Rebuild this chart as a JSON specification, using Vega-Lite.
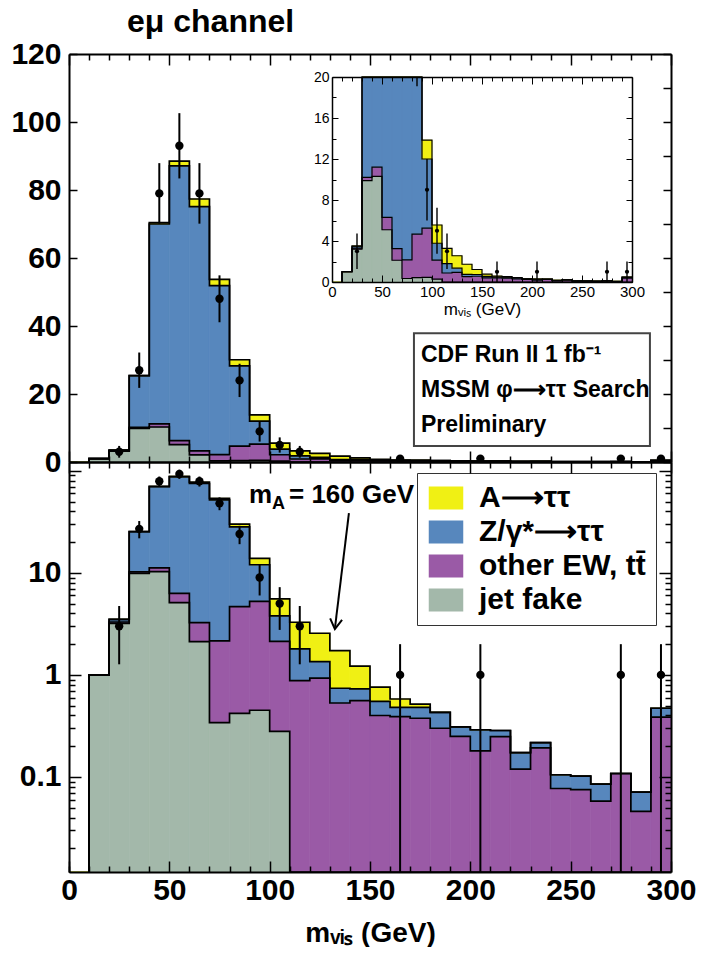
{
"$schema": "https://vega.github.io/schema/vega-lite/v6.json",
"background": "white",
"padding": {"left": 10, "top": 6, "right": 0, "bottom": 0},
"title": {"text": "eμ channel", "anchor": "start", "frame": "group", "dx": 58, "offset": 0, "fontSize": 32, "fontWeight": "bold", "font": "Liberation Sans", "color": "black"},
"spacing": 0,
"bounds": "flush",
"resolve": {"scale": {"color": "independent", "stroke": "independent"}, "legend": {"color": "independent", "stroke": "independent"}},
"config": {"view": {"stroke": null}, "font": "Liberation Sans", "axis": {"grid": false, "labelColor": "black", "tickColor": "black", "domainColor": "black", "titleColor": "black", "labelOverlap": false, "labelFlush": false, "labelBound": false}},
"datasets": {
"bins": [
{"lo":0,"hi":10,"jet fake":0,"other EW, tt̄":0,"Z/γ*→ττ":0,"A→ττ":0},
{"lo":10,"hi":20,"jet fake":1.0,"other EW, tt̄":0,"Z/γ*→ττ":0,"A→ττ":0},
{"lo":20,"hi":30,"jet fake":3.2,"other EW, tt̄":0.1,"Z/γ*→ττ":0.2,"A→ττ":0},
{"lo":30,"hi":40,"jet fake":9.9,"other EW, tt̄":0.3,"Z/γ*→ττ":15.2,"A→ττ":0},
{"lo":40,"hi":50,"jet fake":10.3,"other EW, tt̄":0.9,"Z/γ*→ττ":58.8,"A→ττ":0.4},
{"lo":50,"hi":60,"jet fake":5.1,"other EW, tt̄":1.2,"Z/γ*→ττ":80.8,"A→ττ":1.4},
{"lo":60,"hi":70,"jet fake":2.12,"other EW, tt̄":1.13,"Z/γ*→ττ":71.85,"A→ττ":2.25},
{"lo":70,"hi":80,"jet fake":0.34,"other EW, tt̄":1.81,"Z/γ*→ττ":49.75,"A→ττ":1.8},
{"lo":80,"hi":90,"jet fake":0.42,"other EW, tt̄":4.25,"Z/γ*→ττ":23.6,"A→ττ":1.8},
{"lo":90,"hi":100,"jet fake":0.45,"other EW, tt̄":4.8,"Z/γ*→ττ":6.75,"A→ττ":1.85},
{"lo":100,"hi":110,"jet fake":0.28,"other EW, tt̄":1.85,"Z/γ*→ττ":1.65,"A→ττ":1.78},
{"lo":110,"hi":120,"jet fake":0,"other EW, tt̄":0.88,"Z/γ*→ττ":0.92,"A→ττ":1.48},
{"lo":120,"hi":130,"jet fake":0,"other EW, tt̄":0.93,"Z/γ*→ττ":0.42,"A→ττ":1.21},
{"lo":130,"hi":140,"jet fake":0,"other EW, tt̄":0.53,"Z/γ*→ττ":0.21,"A→ττ":0.99},
{"lo":140,"hi":150,"jet fake":0,"other EW, tt̄":0.56,"Z/γ*→ττ":0.17,"A→ττ":0.49},
{"lo":150,"hi":160,"jet fake":0,"other EW, tt̄":0.40,"Z/γ*→ττ":0.15,"A→ττ":0.21},
{"lo":160,"hi":170,"jet fake":0,"other EW, tt̄":0.39,"Z/γ*→ττ":0.09,"A→ττ":0.10},
{"lo":170,"hi":180,"jet fake":0,"other EW, tt̄":0.376,"Z/γ*→ττ":0.105,"A→ττ":0.035},
{"lo":180,"hi":190,"jet fake":0,"other EW, tt̄":0.30,"Z/γ*→ττ":0.13,"A→ττ":0},
{"lo":190,"hi":200,"jet fake":0,"other EW, tt̄":0.25,"Z/γ*→ττ":0.06,"A→ττ":0},
{"lo":200,"hi":210,"jet fake":0,"other EW, tt̄":0.18,"Z/γ*→ττ":0.11,"A→ττ":0},
{"lo":210,"hi":220,"jet fake":0,"other EW, tt̄":0.248,"Z/γ*→ττ":0.037,"A→ττ":0},
{"lo":220,"hi":230,"jet fake":0,"other EW, tt̄":0.119,"Z/γ*→ττ":0.054,"A→ττ":0},
{"lo":230,"hi":240,"jet fake":0,"other EW, tt̄":0.193,"Z/γ*→ττ":0.024,"A→ττ":0},
{"lo":240,"hi":250,"jet fake":0,"other EW, tt̄":0.077,"Z/γ*→ττ":0.028,"A→ττ":0},
{"lo":250,"hi":260,"jet fake":0,"other EW, tt̄":0.075,"Z/γ*→ττ":0.027,"A→ττ":0},
{"lo":260,"hi":270,"jet fake":0,"other EW, tt̄":0.058,"Z/γ*→ττ":0.027,"A→ττ":0},
{"lo":270,"hi":280,"jet fake":0,"other EW, tt̄":0.108,"Z/γ*→ττ":0,"A→ττ":0},
{"lo":280,"hi":290,"jet fake":0,"other EW, tt̄":0.046,"Z/γ*→ττ":0.025,"A→ττ":0},
{"lo":290,"hi":300,"jet fake":0,"other EW, tt̄":0.385,"Z/γ*→ττ":0.086,"A→ττ":0}
],
"obs": [
{"c":25,"n":3,"lo":1.27,"hi":4.73},
{"c":35,"n":27,"lo":21.8,"hi":32.2},
{"c":45,"n":79,"lo":70.1,"hi":87.9},
{"c":55,"n":93,"lo":83.4,"hi":102.6},
{"c":65,"n":79,"lo":70.1,"hi":87.9},
{"c":75,"n":48,"lo":41.1,"hi":54.9},
{"c":85,"n":24,"lo":19.1,"hi":28.9},
{"c":95,"n":9,"lo":6,"hi":12},
{"c":105,"n":5,"lo":2.76,"hi":7.24},
{"c":115,"n":3,"lo":1.27,"hi":4.73},
{"c":165,"n":1,"lo":0,"hi":2},
{"c":205,"n":1,"lo":0,"hi":2},
{"c":275,"n":1,"lo":0,"hi":2},
{"c":295,"n":1,"lo":0,"hi":2}
]
},
"vconcat": [
{
"width": 602, "height": 408,
"resolve": {"scale": {"x": "independent", "y": "independent"}},
"layer": [
{"layer": [
{"data": {"name": "bins"},
 "transform": [{"fold": ["jet fake","other EW, tt̄","Z/γ*→ττ","A→ττ"], "as": ["comp","v"]}, {"stack": "v", "groupby": ["lo"], "as": ["y0","y1"]}],
 "mark": {"type": "rect", "strokeWidth": 0.7},
 "encoding": {
  "x": {"field": "lo", "type": "quantitative", "scale": {"domain": [0,300], "nice": false},
        "axis": {"orient": "bottom", "values": [0,10,20,30,40,50,60,70,80,90,100,110,120,130,140,150,160,170,180,190,200,210,220,230,240,250,260,270,280,290,300], "labels": false, "title": null, "tickSize": {"condition": {"test": "datum.value % 50 === 0", "value": -11}, "value": -6}, "tickWidth": 1.5, "domainWidth": 2, "zindex": 1}},
  "x2": {"field": "hi"},
  "y": {"field": "y1", "type": "quantitative", "scale": {"domain": [0,120], "nice": false},
        "axis": {"orient": "left", "values": [0,10,20,30,40,50,60,70,80,90,100,110,120], "labelExpr": "datum.value % 20 === 0 ? datum.label : ''", "labelOverlap": false, "labelFontSize": 30, "labelFontWeight": "bold", "labelPadding": 16, "tickSize": -8, "tickWidth": 1.5, "domainWidth": 2, "title": null, "zindex": 1}},
  "y2": {"field": "y0"},
  "color": {"field": "comp", "type": "nominal", "legend": null, "scale": {"domain": ["A→ττ","Z/γ*→ττ","other EW, tt̄","jet fake"], "range": ["#f0f014","#5787bd","#9a5aa6","#a3b8aa"]}},
  "stroke": {"field": "comp", "type": "nominal", "legend": null, "scale": {"domain": ["A→ττ","Z/γ*→ττ","other EW, tt̄","jet fake"], "range": ["#f0f014","#5787bd","#9a5aa6","#a3b8aa"]}}
 }},
{"data": {"name": "bins"},
 "transform": [{"fold": ["jet fake","other EW, tt̄","Z/γ*→ττ","A→ττ"], "as": ["comp","v"]}, {"stack": "v", "groupby": ["lo"], "as": ["y0","y1"]}],
 "mark": {"type": "line", "interpolate": "step-before", "color": "black", "strokeWidth": 1.7},
 "encoding": {"x": {"field": "hi", "type": "quantitative"}, "y": {"field": "y1", "type": "quantitative"}, "detail": {"field": "comp", "type": "nominal"}}},
{"data": {"name": "obs"}, "mark": {"type": "rule", "color": "black", "strokeWidth": 2},
 "encoding": {"x": {"field": "c", "type": "quantitative"}, "y": {"field": "lo", "type": "quantitative"}, "y2": {"field": "hi"}}},
{"data": {"name": "obs"}, "mark": {"type": "point", "filled": true, "color": "black", "opacity": 1, "size": 70},
 "encoding": {"x": {"field": "c", "type": "quantitative"}, "y": {"field": "n", "type": "quantitative"}}},
{"data": {"values": [{}]}, "mark": {"type": "rect", "fill": "white", "stroke": "#444", "strokeWidth": 2},
 "encoding": {"x": {"datum": 171.9}, "x2": {"datum": 289.5}, "y": {"datum": 37.9}, "y2": {"datum": 4.7}}},
{"data": {"values": [{}]}, "mark": {"type": "text", "align": "left", "baseline": "alphabetic", "fontSize": 23, "fontWeight": "bold", "lineHeight": 35, "color": "black", "text": ["CDF Run II  1 fb⁻¹", "MSSM φ⟶ττ Search", "Preliminary"]},
 "encoding": {"x": {"datum": 175.4}, "y": {"datum": 29.4}}}
]},
{"data": {"name": "obs"}, "mark": {"type": "point", "opacity": 0},
 "encoding": {
  "x": {"field": "c", "type": "quantitative", "scale": {"domain": [0,300], "nice": false},
        "axis": {"orient": "top", "values": [0,10,20,30,40,50,60,70,80,90,100,110,120,130,140,150,160,170,180,190,200,210,220,230,240,250,260,270,280,290,300], "labels": false, "title": null, "tickSize": {"condition": {"test": "datum.value % 50 === 0", "value": -11}, "value": -6}, "tickWidth": 1.5, "domainWidth": 2, "zindex": 1}},
  "y": {"field": "n", "type": "quantitative", "scale": {"domain": [0,120], "nice": false},
        "axis": {"orient": "right", "values": [0,10,20,30,40,50,60,70,80,90,100,110,120], "labels": false, "title": null, "tickSize": -8, "tickWidth": 1.5, "domainWidth": 2, "zindex": 1}}
 }},
{"layer": [
{"data": {"name": "bins"},
 "transform": [{"fold": ["jet fake","other EW, tt̄","Z/γ*→ττ","A→ττ"], "as": ["comp","v"]}, {"stack": "v", "groupby": ["lo"], "as": ["y0","y1"]}],
 "mark": {"type": "rect", "strokeWidth": 0.6},
 "encoding": {
  "x": {"field": "lo", "type": "quantitative", "scale": {"domain": [0,300], "range": [263,563], "nice": false},
        "axis": {"orient": "bottom", "offset": -180, "values": [0,50,100,150,200,250,300], "labelOverlap": false, "labelFontSize": 15, "labelPadding": 9, "tickSize": -7, "tickWidth": 1, "domainWidth": 1.5, "title": "mᵥᵢₛ  (GeV)", "titleFontSize": 17, "titleFontWeight": "normal", "titlePadding": 2, "zindex": 1}},
  "x2": {"field": "hi"},
  "y": {"field": "y1", "type": "quantitative", "scale": {"domain": [0,20], "range": [228,23], "clamp": true, "nice": false},
        "axis": {"orient": "left", "offset": -263, "values": [0,2,4,6,8,10,12,14,16,18,20], "labelExpr": "datum.value % 4 === 0 ? datum.label : ''", "labelOverlap": false, "labelFontSize": 14, "labelPadding": 9, "tickSize": {"condition": {"test": "datum.value % 4 === 0", "value": -6}, "value": -4}, "tickWidth": 1, "domainWidth": 1.5, "title": null, "zindex": 1}},
  "y2": {"field": "y0"},
  "color": {"field": "comp", "type": "nominal", "legend": null, "scale": {"domain": ["A→ττ","Z/γ*→ττ","other EW, tt̄","jet fake"], "range": ["#f0f014","#5787bd","#9a5aa6","#a3b8aa"]}},
  "stroke": {"field": "comp", "type": "nominal", "legend": null, "scale": {"domain": ["A→ττ","Z/γ*→ττ","other EW, tt̄","jet fake"], "range": ["#f0f014","#5787bd","#9a5aa6","#a3b8aa"]}}
 }},
{"data": {"name": "bins"},
 "transform": [{"fold": ["jet fake","other EW, tt̄","Z/γ*→ττ","A→ττ"], "as": ["comp","v"]}, {"stack": "v", "groupby": ["lo"], "as": ["y0","y1"]}],
 "mark": {"type": "line", "interpolate": "step-before", "color": "black", "strokeWidth": 1.2},
 "encoding": {"x": {"field": "hi", "type": "quantitative"}, "y": {"field": "y1", "type": "quantitative"}, "detail": {"field": "comp", "type": "nominal"}}},
{"data": {"name": "obs"}, "mark": {"type": "rule", "color": "black", "strokeWidth": 1.4},
 "encoding": {"x": {"field": "c", "type": "quantitative"}, "y": {"field": "lo", "type": "quantitative"}, "y2": {"field": "hi"}}},
{"data": {"name": "obs"}, "transform": [{"filter": "datum.n <= 20"}], "mark": {"type": "point", "filled": true, "color": "black", "opacity": 1, "size": 18},
 "encoding": {"x": {"field": "c", "type": "quantitative"}, "y": {"field": "n", "type": "quantitative"}}}
]},
{"data": {"name": "obs"}, "transform": [{"filter": "datum.n <= 20"}], "mark": {"type": "point", "opacity": 0},
 "encoding": {
  "x": {"field": "c", "type": "quantitative", "scale": {"domain": [0,300], "range": [263,563], "nice": false},
        "axis": {"orient": "top", "offset": -23, "values": [0,10,20,30,40,50,60,70,80,90,100,110,120,130,140,150,160,170,180,190,200,210,220,230,240,250,260,270,280,290,300], "labels": false, "title": null, "tickSize": {"condition": {"test": "datum.value % 50 === 0", "value": -7}, "value": -4}, "tickWidth": 1, "domainWidth": 1.5, "zindex": 1}},
  "y": {"field": "n", "type": "quantitative", "scale": {"domain": [0,20], "range": [228,23], "clamp": true, "nice": false},
        "axis": {"orient": "right", "offset": -39, "values": [0,2,4,6,8,10,12,14,16,18,20], "labels": false, "title": null, "tickSize": {"condition": {"test": "datum.value % 4 === 0", "value": -6}, "value": -4}, "tickWidth": 1, "domainWidth": 1.5, "zindex": 1}}
 }},
{"data": {"name": "obs"}, "mark": {"type": "point", "opacity": 0},
 "encoding": {
  "x": {"field": "c", "type": "quantitative", "scale": {"domain": [0,300], "range": [263,563], "nice": false},
        "axis": {"orient": "bottom", "offset": -180, "values": [0,10,20,30,40,50,60,70,80,90,100,110,120,130,140,150,160,170,180,190,200,210,220,230,240,250,260,270,280,290,300], "labels": false, "domain": false, "title": null, "tickSize": -4, "tickWidth": 1, "zindex": 1}}
 }}
]
},
{
"width": 602, "height": 410,
"resolve": {"scale": {"x": "independent", "y": "independent"}},
"layer": [
{"layer": [
{"data": {"name": "bins"},
 "transform": [{"fold": ["jet fake","other EW, tt̄","Z/γ*→ττ","A→ττ"], "as": ["comp","v"]}, {"stack": "v", "groupby": ["lo"], "as": ["y0","y1"]}],
 "mark": {"type": "rect", "strokeWidth": 0.7},
 "encoding": {
  "x": {"field": "lo", "type": "quantitative", "scale": {"domain": [0,300], "nice": false},
        "axis": {"orient": "bottom", "values": [0,50,100,150,200,250,300], "labelOverlap": false, "labelFontSize": 30, "labelFontWeight": "bold", "labelPadding": 14, "tickSize": -11, "tickWidth": 1.5, "domainWidth": 2, "title": "mᵥᵢₛ  (GeV)", "titleFontSize": 28, "titleFontWeight": "bold", "titlePadding": 14, "zindex": 1}},
  "x2": {"field": "hi"},
  "y": {"field": "y1", "type": "quantitative", "scale": {"type": "log", "domain": [0.0117,122], "clamp": true, "nice": false},
        "axis": {"orient": "left", "values": [0.02,0.03,0.04,0.05,0.06,0.07,0.08,0.09,0.1,0.2,0.3,0.4,0.5,0.6,0.7,0.8,0.9,1,2,3,4,5,6,7,8,9,10,20,30,40,50,60,70,80,90,100], "labelExpr": "datum.value == 0.1 ? '0.1' : datum.value == 1 ? '1' : datum.value == 10 ? '10' : ''", "labelOverlap": false, "labelFontSize": 30, "labelFontWeight": "bold", "labelPadding": 20, "tickSize": {"condition": {"test": "datum.value == 0.1 || datum.value == 1 || datum.value == 10 || datum.value == 100", "value": -12}, "value": -6}, "tickWidth": 1.5, "domainWidth": 2, "title": null, "zindex": 1}},
  "y2": {"field": "y0"},
  "color": {"field": "comp", "type": "nominal",
    "scale": {"domain": ["A→ττ","Z/γ*→ττ","other EW, tt̄","jet fake"], "range": ["#f0f014","#5787bd","#9a5aa6","#a3b8aa"]},
    "legend": {"title": null, "orient": "none", "legendX": 348, "legendY": 11, "direction": "vertical", "symbolType": "M-1.5,-1L1.5,-1L1.5,1L-1.5,1Z", "symbolSize": 529, "symbolStrokeWidth": 0, "symbolOpacity": 1, "symbolOffset": 4, "labelFont": "Liberation Sans", "labelFontSize": 30, "labelFontWeight": "bold", "labelColor": "black", "labelOffset": 18, "labelLimit": 400, "rowPadding": 4, "padding": 10, "fillColor": "white", "strokeColor": "#333",
      "labelExpr": "replace(datum.label, '→', '⟶')"}},
  "stroke": {"field": "comp", "type": "nominal", "legend": null, "scale": {"domain": ["A→ττ","Z/γ*→ττ","other EW, tt̄","jet fake"], "range": ["#f0f014","#5787bd","#9a5aa6","#a3b8aa"]}}
 }},
{"data": {"name": "bins"},
 "transform": [{"fold": ["jet fake","other EW, tt̄","Z/γ*→ττ","A→ττ"], "as": ["comp","v"]}, {"stack": "v", "groupby": ["lo"], "as": ["y0","y1"]}],
 "mark": {"type": "line", "interpolate": "step-before", "color": "black", "strokeWidth": 1.7},
 "encoding": {"x": {"field": "hi", "type": "quantitative"}, "y": {"field": "y1", "type": "quantitative"}, "detail": {"field": "comp", "type": "nominal"}}},
{"data": {"name": "obs"}, "mark": {"type": "rule", "color": "black", "strokeWidth": 2},
 "encoding": {"x": {"field": "c", "type": "quantitative"}, "y": {"field": "lo", "type": "quantitative"}, "y2": {"field": "hi"}}},
{"data": {"name": "obs"}, "mark": {"type": "point", "filled": true, "color": "black", "opacity": 1, "size": 70},
 "encoding": {"x": {"field": "c", "type": "quantitative"}, "y": {"field": "n", "type": "quantitative"}}},
{"data": {"values": [{}]}, "mark": {"type": "text", "align": "left", "baseline": "alphabetic", "fontSize": 26, "fontWeight": "bold", "color": "black", "text": "m"},
 "encoding": {"x": {"datum": 89.7}, "y": {"datum": 48.9}}},
{"data": {"values": [{}]}, "mark": {"type": "text", "align": "left", "baseline": "alphabetic", "fontSize": 18, "fontWeight": "bold", "color": "black", "text": "A", "dx": 23, "dy": 6},
 "encoding": {"x": {"datum": 89.7}, "y": {"datum": 48.9}}},
{"data": {"values": [{}]}, "mark": {"type": "text", "align": "left", "baseline": "alphabetic", "fontSize": 26, "fontWeight": "bold", "color": "black", "text": "= 160 GeV", "dx": 40},
 "encoding": {"x": {"datum": 89.7}, "y": {"datum": 48.9}}},
{"data": {"values": [{}]}, "mark": {"type": "rule", "color": "black", "strokeWidth": 2},
 "encoding": {"x": {"datum": 139.5}, "y": {"datum": 38.5}, "x2": {"datum": 132.6}, "y2": {"datum": 2.95}}},
{"data": {"values": [{}]}, "mark": {"type": "point", "shape": "M-0.6,-1L0,0L0.6,-1", "filled": false, "stroke": "black", "strokeWidth": 2, "size": 400, "angle": 7, "opacity": 1},
 "encoding": {"x": {"datum": 132.5}, "y": {"datum": 2.81}}}
]},
{"data": {"name": "obs"}, "mark": {"type": "point", "opacity": 0},
 "encoding": {
  "x": {"field": "c", "type": "quantitative", "scale": {"domain": [0,300], "nice": false},
        "axis": {"orient": "top", "values": [0,10,20,30,40,50,60,70,80,90,100,110,120,130,140,150,160,170,180,190,200,210,220,230,240,250,260,270,280,290,300], "labels": false, "title": null, "tickSize": {"condition": {"test": "datum.value % 50 === 0", "value": -11}, "value": -6}, "tickWidth": 1.5, "domainWidth": 2, "zindex": 1}},
  "y": {"field": "n", "type": "quantitative", "scale": {"type": "log", "domain": [0.0117,122], "clamp": true, "nice": false},
        "axis": {"orient": "right", "values": [0.02,0.03,0.04,0.05,0.06,0.07,0.08,0.09,0.1,0.2,0.3,0.4,0.5,0.6,0.7,0.8,0.9,1,2,3,4,5,6,7,8,9,10,20,30,40,50,60,70,80,90,100], "labels": false, "title": null, "tickSize": {"condition": {"test": "datum.value == 0.1 || datum.value == 1 || datum.value == 10 || datum.value == 100", "value": -12}, "value": -6}, "tickWidth": 1.5, "domainWidth": 2, "zindex": 1}}
 }},
{"data": {"name": "obs"}, "mark": {"type": "point", "opacity": 0},
 "encoding": {
  "x": {"field": "c", "type": "quantitative", "scale": {"domain": [0,300], "nice": false},
        "axis": {"orient": "bottom", "values": [0,10,20,30,40,60,70,80,90,110,120,130,140,160,170,180,190,210,220,230,240,260,270,280,290], "labels": false, "domain": false, "title": null, "tickSize": -6, "tickWidth": 1.5, "zindex": 1}}
 }}
]
}
]
}
